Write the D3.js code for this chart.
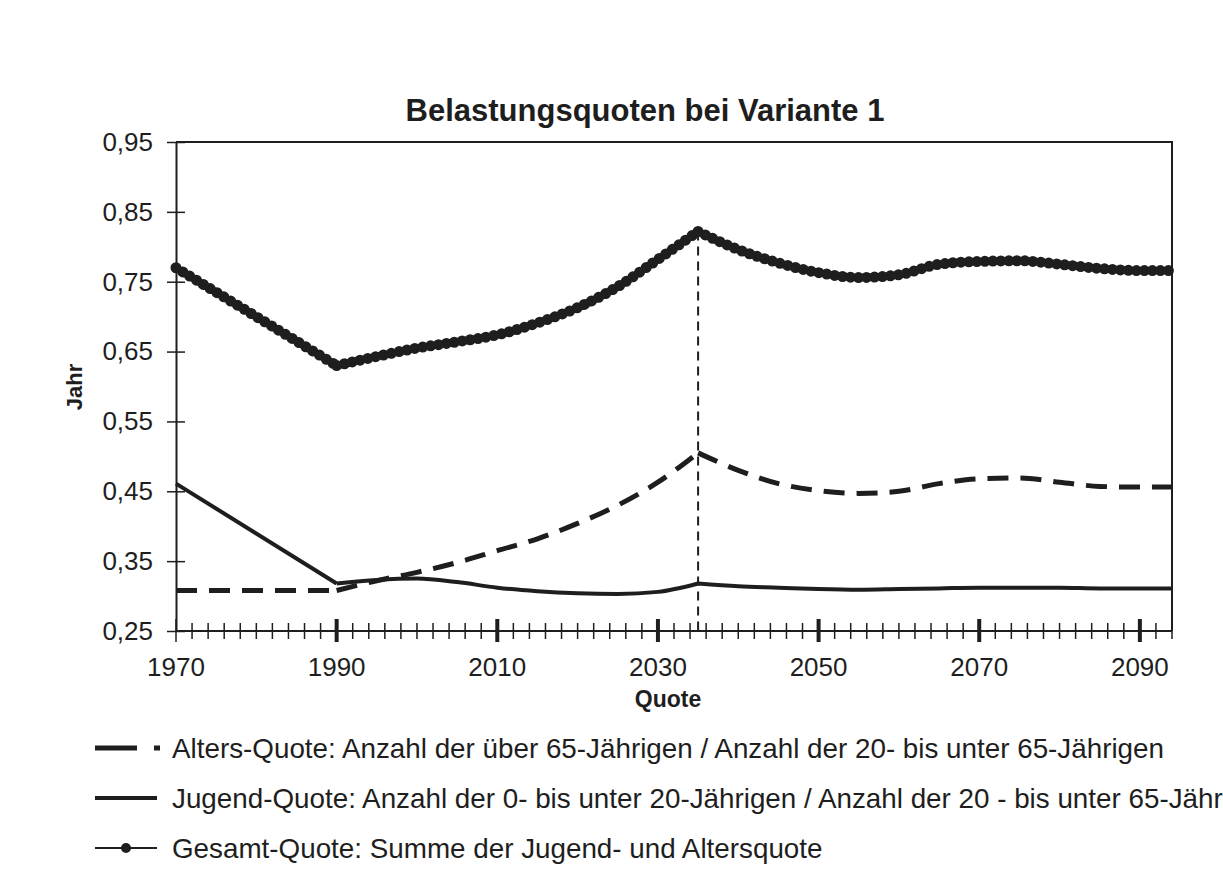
<!DOCTYPE html>
<html>
<head>
<meta charset="utf-8">
<script src="https://cdn.jsdelivr.net/npm/d3@7"></script>
<style>
  body { margin: 0; background: #fff; }
  svg { display: block; font-family: "Liberation Sans", Arial, sans-serif; }
</style>
</head>
<body>
<svg id="chart" width="1223" height="888"></svg>
<script>
let years = [1970, 1990, 1995, 2000, 2005, 2010, 2015, 2020, 2025, 2030, 2035, 2040,
             2045, 2050, 2055, 2060, 2065, 2070, 2075, 2080, 2085, 2090, 2094];
let altersQuote = [0.308, 0.308, 0.322, 0.334, 0.348, 0.365, 0.382, 0.404, 0.430, 0.463, 0.505, 0.480,
                   0.461, 0.451, 0.447, 0.450, 0.461, 0.468, 0.469, 0.463, 0.457, 0.456, 0.456];
let jugendQuote = [0.461, 0.318, 0.323, 0.325, 0.320, 0.312, 0.307, 0.304, 0.303, 0.306, 0.318, 0.314,
                   0.312, 0.310, 0.309, 0.310, 0.311, 0.312, 0.312, 0.312, 0.311, 0.311, 0.311];
let gesamtQuote = [0.770, 0.630, 0.643, 0.655, 0.664, 0.674, 0.691, 0.713, 0.743, 0.782, 0.822, 0.796,
                   0.777, 0.763, 0.756, 0.760, 0.775, 0.779, 0.780, 0.775, 0.769, 0.766, 0.766];
let knickJahre = [1990, 2035];   // Knickstellen der Kurven
let markJahr = 2035;             // senkrechte Hilfslinie
let yTicks = [0.25, 0.35, 0.45, 0.55, 0.65, 0.75, 0.85, 0.95];
let xLabels = [1970, 1990, 2010, 2030, 2050, 2070, 2090];
// Legendentexte, so weit sie auf der Vorlage sichtbar sind
let legende = [
  "Alters-Quote: Anzahl der über 65-Jährigen / Anzahl der 20- bis unter 65-Jährigen",
  "Jugend-Quote: Anzahl der 0- bis unter 20-Jährigen / Anzahl der 20 - bis unter 65-Jähr",
  "Gesamt-Quote: Summe der Jugend- und Altersquote"
];

let svg = d3.select('#chart');
let ink = '#1e1e1e';

let x = d3.scaleLinear().domain([1970, 2094]).range([176, 1172]);
let y = d3.scaleLinear().domain([0.25, 0.95]).range([631, 142]);

// Titel
svg.append('text')
  .attr('x', 645).attr('y', 121)
  .attr('text-anchor', 'middle')
  .attr('font-size', 31).attr('font-weight', 'bold').attr('fill', ink)
  .text('Belastungsquoten bei Variante 1');

// Rahmen oben und rechts
svg.append('path')
  .attr('d', `M${x(1970)},${y(0.95)}H${x(2094)}V${y(0.25)}`)
  .attr('fill', 'none').attr('stroke', ink).attr('stroke-width', 2);

// y-Achse
let yAxis = svg.append('g').attr('transform', `translate(${x(1970)},0)`)
  .call(d3.axisLeft(y).tickValues(yTicks).tickSize(0).tickPadding(23)
    .tickFormat(d => d3.format('.2f')(d).replace('.', ',')));
yAxis.select('.domain').attr('stroke', ink).attr('stroke-width', 2);
yAxis.selectAll('text').attr('font-size', 26).attr('fill', ink).attr('font-family', null);
yAxis.selectAll('.tick').append('line')
  .attr('x1', -9).attr('x2', 9).attr('stroke', ink).attr('stroke-width', 1.5);

// x-Achse mit Teilstrichen alle 2 Jahre
let xAxis = svg.append('g').attr('transform', `translate(0,${y(0.25)})`);
xAxis.append('line')
  .attr('x1', x(1970)).attr('x2', x(2094))
  .attr('stroke', ink).attr('stroke-width', 2);
xAxis.selectAll('.minor')
  .data(d3.range(1972, 2095, 2).filter(d => (d - 1970) % 20 !== 0))
  .join('line')
  .attr('x1', d => x(d)).attr('x2', d => x(d))
  .attr('y1', -8).attr('y2', 8)
  .attr('stroke', ink).attr('stroke-width', 1.5);
xAxis.selectAll('.major')
  .data(xLabels)
  .join('line')
  .attr('x1', d => x(d)).attr('x2', d => x(d))
  .attr('y1', -12).attr('y2', 11)
  .attr('stroke', ink).attr('stroke-width', d => d === 1970 ? 1.5 : 4);
xAxis.selectAll('text')
  .data(xLabels)
  .join('text')
  .attr('x', d => x(d)).attr('y', 45)
  .attr('text-anchor', 'middle')
  .attr('font-size', 26).attr('fill', ink)
  .text(d => d);

// Achsentitel
svg.append('text')
  .attr('x', 668).attr('y', 707)
  .attr('text-anchor', 'middle')
  .attr('font-size', 23).attr('font-weight', 'bold').attr('fill', ink)
  .text('Quote');
svg.append('text')
  .attr('transform', 'translate(82,387) rotate(-90)')
  .attr('text-anchor', 'middle')
  .attr('font-size', 22).attr('font-weight', 'bold').attr('fill', ink)
  .text('Jahr');

// Kurven: stückweise glatt, mit Knicken bei knickJahre
let line = d3.line().x(d => x(d[0])).y(d => y(d[1])).curve(d3.curveMonotoneX);
function kurve(values) {
  let pts = years.map((yr, i) => [yr, values[i]]);
  let grenzen = [1970].concat(knickJahre, [2094]);
  let d = '';
  for (let k = 0; k < grenzen.length - 1; k++) {
    let seg = pts.filter(p => p[0] >= grenzen[k] && p[0] <= grenzen[k + 1]);
    d += line(seg);
  }
  return d;
}

// senkrechte Hilfslinie
svg.append('line')
  .attr('x1', x(markJahr)).attr('x2', x(markJahr))
  .attr('y1', y(gesamtQuote[years.indexOf(markJahr)])).attr('y2', y(0.25))
  .attr('stroke', ink).attr('stroke-width', 2).attr('stroke-dasharray', '9 6');

svg.append('path')
  .attr('d', kurve(altersQuote))
  .attr('fill', 'none').attr('stroke', ink)
  .attr('stroke-width', 5).attr('stroke-dasharray', '21 12');

svg.append('path')
  .attr('d', kurve(jugendQuote))
  .attr('fill', 'none').attr('stroke', ink).attr('stroke-width', 4);

svg.append('path')
  .attr('d', kurve(gesamtQuote))
  .attr('fill', 'none').attr('stroke', ink).attr('stroke-width', 7);
svg.append('path')
  .attr('d', kurve(gesamtQuote))
  .attr('fill', 'none').attr('stroke', ink)
  .attr('stroke-width', 11).attr('stroke-linecap', 'round').attr('stroke-dasharray', '0 8');

// Legende
let leg = svg.append('g');
let legY = [748, 798, 848];
leg.selectAll('text')
  .data(legende)
  .join('text')
  .attr('x', 172).attr('y', (d, i) => legY[i] + 10)
  .attr('font-size', 27.8).attr('fill', ink)
  .text(d => d);
leg.append('line')
  .attr('x1', 95).attr('x2', 160).attr('y1', legY[0]).attr('y2', legY[0])
  .attr('stroke', ink).attr('stroke-width', 5).attr('stroke-dasharray', '42 17');
leg.append('line')
  .attr('x1', 95).attr('x2', 157).attr('y1', legY[1]).attr('y2', legY[1])
  .attr('stroke', ink).attr('stroke-width', 4);
leg.append('line')
  .attr('x1', 95).attr('x2', 157).attr('y1', legY[2]).attr('y2', legY[2])
  .attr('stroke', ink).attr('stroke-width', 2);
leg.append('circle')
  .attr('cx', 126).attr('cy', legY[2]).attr('r', 5).attr('fill', ink);
</script>
</body>
</html>
